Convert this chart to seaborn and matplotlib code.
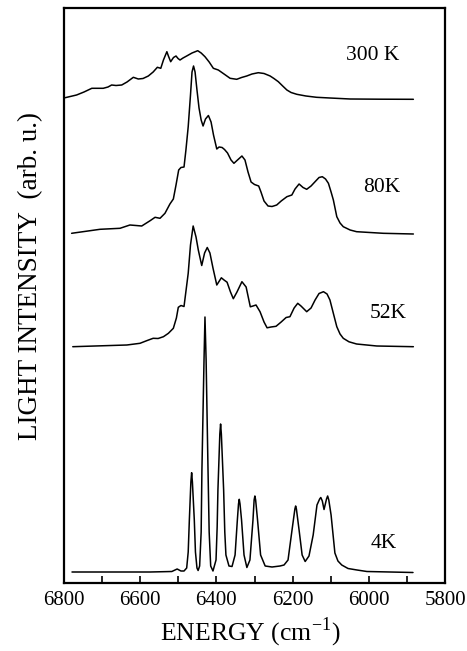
import matplotlib
matplotlib.use("Agg")
import matplotlib.pyplot as plt
from matplotlib.ticker import MultipleLocator
import numpy as np
import pandas as pd
import seaborn as sns

# ---------------- data ----------------
spectra_names = ["4K", "52K", "80K", "300 K"]

energy_4k = [6779, 6574, 6517, 6503, 6493, 6485, 6478, 6474, 6471, 6467, 6465, 6463, 6458, 6455, 6451, 6448,
             6444, 6440, 6438, 6432.5, 6430, 6427, 6422, 6419, 6415, 6409, 6401, 6398, 6396, 6391, 6389, 6387, 6381, 6378,
             6375, 6367, 6359, 6351, 6345, 6342, 6340, 6338, 6334, 6327.5, 6320, 6312, 6304, 6301, 6299,
             6297, 6292, 6284, 6272, 6254, 6233, 6222.5, 6212, 6201.5, 6194, 6192, 6190, 6183, 6175, 6167,
             6157, 6146, 6136, 6129, 6126, 6122, 6117.5, 6111, 6108, 6105, 6099, 6089, 6081, 6071, 6054.5, 6031,
             6005, 5944, 5884]
intensity_4k = [0, 0, 0.5, 3, 1, 1, 4, 20, 52, 90, 99.3, 90, 52, 20, 4, 1.5,
                6, 40, 102, 212, 255, 212, 102, 40, 6, 1, 12, 45, 82, 138, 148, 138, 82, 40,
                17, 6, 5.5, 17, 52, 68, 72.7, 68, 52, 17, 4.5, 12, 52, 72, 76,
                72, 52, 17, 6, 5, 6, 7, 12, 42, 63, 66, 63, 42, 17, 10.5,
                16, 37, 67, 73, 74.5, 71, 62.5, 73, 76, 72, 57, 19, 11, 7, 3.5, 2,
                0.5, 0, -0.5]

energy_52k = [6777, 6635, 6600.5, 6583, 6566, 6553, 6539, 6526, 6513, 6505, 6500, 6493,
              6485, 6474, 6468, 6461, 6453.5, 6447.5, 6438.5, 6431, 6424, 6417, 6409, 6399,
              6387, 6380, 6372, 6363, 6355.6, 6346, 6333, 6322, 6311, 6304, 6296, 6285.5,
              6275, 6267, 6256.6, 6243.5, 6230, 6217, 6207, 6196, 6186.5, 6178, 6163, 6151.6,
              6141, 6130.6, 6119, 6109.6, 6102, 6092.6, 6084, 6075.5, 6067, 6052, 6032, 5979,
              5883]
intensity_52k = [0, 1.7, 3.4, 6, 8.4, 8.2, 10, 13.4, 18.4, 28.7, 39.4, 41.2,
                 40.2, 73.4, 101.7, 120.7, 109.7, 96.7, 81.2, 93.7, 99.2, 93.7, 78.7, 61.7,
                 68.9, 66.7, 64.5, 54.7, 48, 54.7, 65, 59.7, 39.9, 40.7, 41.7, 35,
                 24.7, 18.9, 19.7, 20.4, 24.7, 29.2, 30, 38.7, 43.4, 40.7, 35, 38.7,
                 46.7, 53.2, 55, 52.7, 46.7, 32.7, 20, 12.7, 8.4, 4.9, 2.7, 0.7,
                 0]

energy_80k = [6780, 6705.5, 6653, 6627, 6611, 6596, 6574, 6561, 6548, 6535, 6522, 6513,
              6506, 6499, 6493, 6485, 6480, 6474, 6468, 6464, 6460, 6456, 6451, 6445.6,
              6440, 6435, 6428.6, 6421, 6414, 6407.6, 6399, 6393, 6385, 6378.7, 6370.8, 6361.6,
              6354, 6344.6, 6333, 6325, 6317, 6309, 6300, 6289, 6283, 6275, 6264.5, 6254,
              6241.7, 6230, 6215, 6202, 6193.6, 6183, 6172.6, 6163, 6151.6, 6141, 6130.6, 6122,
              6113.6, 6106, 6099, 6093, 6084, 6075.5, 6067, 6049, 6032, 5962, 5883]
intensity_80k = [0, 4, 5, 8.3, 7.8, 7.3, 12.6, 16, 15, 20, 29.3, 34.3,
                 48.3, 63.3, 65.8, 66.3, 83.3, 106.6, 138.3, 161.3, 167.3, 161.3, 143.3, 125.3,
                 113.3, 107.3, 114.3, 117.8, 111.3, 98.3, 84.3, 86.3, 85.8, 83.8, 80.3, 73.3,
                 70, 73.3, 77.3, 73.3, 61.3, 51.3, 48.8, 47.3, 41.3, 32.3, 27.3, 26.8,
                 28.3, 32.3, 36.6, 38.3, 44.3, 49.3, 45.8, 44, 47.3, 51.6, 55.8, 56.6,
                 54.3, 50, 41.3, 33.3, 16.6, 10.3, 6.6, 3.3, 1.6, 0, -0.7]

energy_300k = [6797, 6767, 6747.5, 6727, 6697, 6684.5, 6675, 6663.5, 6648.5, 6634.6, 6618, 6605,
               6592.6, 6578.7, 6566, 6555, 6546, 6539, 6530, 6526, 6520, 6512.6, 6506, 6500.7,
               6495.5, 6487.6, 6478, 6464, 6449, 6440, 6430, 6419, 6408, 6395, 6380, 6364,
               6346.7, 6334, 6320.4, 6306.5, 6290, 6275, 6259, 6249, 6237.5, 6226, 6215, 6204,
               6189, 6165, 6137, 6102, 6049, 5970.5, 5883]
intensity_300k = [1.6, 4.3, 7.3, 11, 11, 12.3, 14.3, 13.8, 14.3, 17.3, 22, 20.3,
                  20.8, 23.3, 27.3, 32, 31, 39.3, 47.6, 43.3, 37.6, 41.8, 43.3, 40.8,
                  39.3, 41.3, 43.3, 46.3, 48.6, 46.3, 42.6, 37.3, 31, 29.3, 25.3, 21,
                  20, 21.8, 23.3, 25.3, 26.6, 25.8, 23.3, 20.8, 17.6, 13.3, 9.3, 6.8,
                  5, 3.3, 2, 1.3, 0.3, 0.1, 0]

offsets = [11.0, 236.3, 349.7, 483.7]

x_ticks = [6800, 6600, 6400, 6200, 6000, 5800]

# ---------------- build table ----------------
all_e = [energy_4k, energy_52k, energy_80k, energy_300k]
all_i = [intensity_4k, intensity_52k, intensity_80k, intensity_300k]
frames = []
for name, e, i, off in zip(spectra_names, all_e, all_i, offsets):
    frames.append(pd.DataFrame({"energy": e,
                                "shifted": np.asarray(i, float) + off,
                                "spectrum": name}))
df = pd.concat(frames, ignore_index=True)

# ---------------- style ----------------
sns.set_style("white")
plt.rcParams["font.family"] = ["Liberation Serif", "DejaVu Serif"]
plt.rcParams["mathtext.fontset"] = "custom"
plt.rcParams["mathtext.rm"] = "Liberation Serif"
plt.rcParams["text.color"] = "black"
plt.rcParams["axes.labelcolor"] = "black"
plt.rcParams["xtick.color"] = "black"
plt.rcParams["ytick.color"] = "black"

fig = plt.figure(figsize=(4.67, 6.51), dpi=100)
ax = fig.add_axes([64 / 467, 1 - 583 / 651, 381 / 467, 575 / 651])

sns.lineplot(data=df, x="energy", y="shifted", units="spectrum", estimator=None,
             sort=False, color="black", linewidth=1.1, ax=ax, legend=False)

ax.set_xlim(6800, 5800)
ax.set_ylim(0, 575)
ax.set_xticks(x_ticks)
ax.set_xticklabels([str(t) for t in x_ticks])
ax.xaxis.set_minor_locator(MultipleLocator(100))
ax.set_yticks([])
ax.tick_params(axis="x", which="both", direction="in", length=5, width=1.2,
               bottom=True, top=False, labelsize=15, pad=6, colors="black",
               labelcolor="black")
ax.tick_params(axis="y", which="both", left=False, right=False)
for s in ax.spines.values():
    s.set_visible(True)
    s.set_color("black")
    s.set_linewidth(1.6)

ax.set_xlabel(r"ENERGY (cm$^{\mathregular{-1}}$)", fontsize=18.5, color="black")
ax.set_ylabel("LIGHT INTENSITY  (arb. u.)", fontsize=19.5, color="black")
ax.xaxis.set_label_coords(0.49, -0.056)
ax.yaxis.set_label_coords(-0.055, 0.534)

text_pos = {"300 K": (5989, 528), "80K": (5966, 395), "52K": (5949.5, 270), "4K": (5960, 39)}
for name in spectra_names:
    tx, ty = text_pos[name]
    ax.text(tx, ty, name, ha="center", va="center", fontsize=15.5, color="black")

fig.savefig("out.png", dpi=100)
